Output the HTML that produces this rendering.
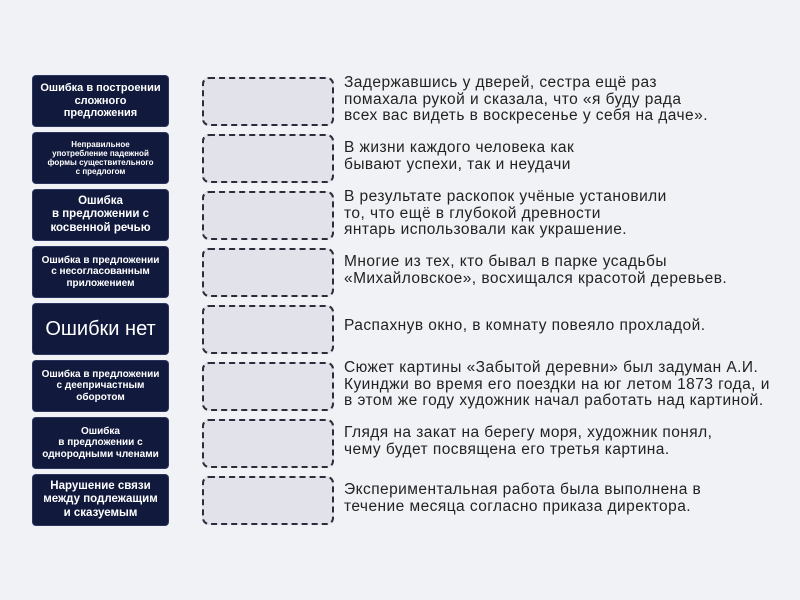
<!DOCTYPE html>
<html><head><meta charset="utf-8"><style>
body{margin:0;width:800px;height:600px;background:#f1f2f5;font-family:"Liberation Sans",sans-serif;position:relative;overflow:hidden}
.l{position:absolute;left:33px;width:135px;height:50px;background:#111a3d;border-radius:3px;color:#fff;font-weight:bold;display:flex;align-items:center;justify-content:center;text-align:center;line-height:1.15;box-shadow:0 0 0 1px #2a3560}
.d{position:absolute;left:202px;width:128px;height:45px;border:2.5px dashed #2a2d3a;border-radius:7px;background:#e2e3ea}
.t{position:absolute;left:344px;font-size:15.5px;letter-spacing:0.45px;line-height:16.5px;color:#222;white-space:nowrap}
</style></head><body>
<div class="l" style="top:76px;font-size:11px">Ошибка в построении<br>сложного<br>предложения</div>
<div class="l" style="top:133px;font-size:8px">Неправильное<br>употребление падежной<br>формы существительного<br>с предлогом</div>
<div class="l" style="top:190px;font-size:11.5px">Ошибка<br>в предложении с<br>косвенной речью</div>
<div class="l" style="top:247px;font-size:10px">Ошибка в предложении<br>с несогласованным<br>приложением</div>
<div class="l" style="top:304px;font-size:20px;font-weight:normal">Ошибки нет</div>
<div class="l" style="top:361px;font-size:10px">Ошибка в предложении<br>с деепричастным<br>оборотом</div>
<div class="l" style="top:418px;font-size:10px">Ошибка<br>в предложении с<br>однородными членами</div>
<div class="l" style="top:475px;font-size:11.5px">Нарушение связи<br>между подлежащим<br>и сказуемым</div>
<div class="d" style="top:77px"></div>
<div class="d" style="top:134px"></div>
<div class="d" style="top:191px"></div>
<div class="d" style="top:248px"></div>
<div class="d" style="top:305px"></div>
<div class="d" style="top:362px"></div>
<div class="d" style="top:419px"></div>
<div class="d" style="top:476px"></div>
<div class="t" style="top:75px">Задержавшись у дверей, сестра ещё раз<br>помахала рукой и сказала, что «я буду рада<br>всех вас видеть в воскресенье у себя на даче».</div>
<div class="t" style="top:140px">В жизни каждого человека как<br>бывают успехи, так и неудачи</div>
<div class="t" style="top:189px">В результате раскопок учёные установили<br>то, что ещё в глубокой древности<br>янтарь использовали как украшение.</div>
<div class="t" style="top:254px">Многие из тех, кто бывал в парке усадьбы<br>«Михайловское», восхищался красотой деревьев.</div>
<div class="t" style="top:318px">Распахнув окно, в комнату повеяло прохладой.</div>
<div class="t" style="top:360px">Сюжет картины «Забытой деревни» был задуман А.И.<br>Куинджи во время его поездки на юг летом 1873 года, и<br>в этом же году художник начал работать над картиной.</div>
<div class="t" style="top:425px">Глядя на закат на берегу моря, художник понял,<br>чему будет посвящена его третья картина.</div>
<div class="t" style="top:482px">Экспериментальная работа была выполнена в<br>течение месяца согласно приказа директора.</div>
</body></html>
